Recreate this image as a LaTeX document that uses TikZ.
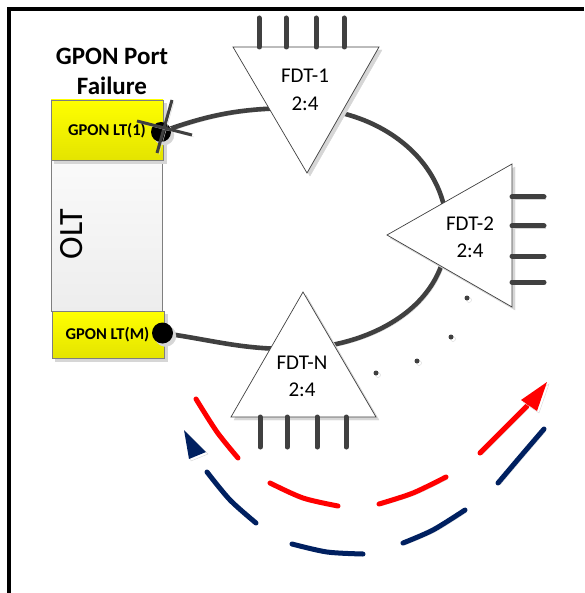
\documentclass[tikz,border=0pt]{standalone}
\usepackage{fontspec}
\setmainfont{Carlito}
\definecolor{ringgray}{HTML}{404040}
\definecolor{navy}{HTML}{002060}
\definecolor{shadowgray}{HTML}{D6D6D6}
\definecolor{yeltop}{HTML}{FFFF00}
\definecolor{yelbot}{HTML}{E4E400}
\definecolor{oltedge}{HTML}{7F7F7F}
\begin{document}
\begin{tikzpicture}[x=1pt,y=-1pt,
  lshadow/.style={preaction={draw=shadowgray, transform canvas={shift={(2pt,-2pt)}}}},
  fshadow/.style={preaction={fill=shadowgray, draw=shadowgray, transform canvas={shift={(3pt,-3pt)}}}},
  frame/.style={draw=black, line width=4pt},
  ring/.style={draw=ringgray, line width=4.6pt, lshadow},
  stub/.style={draw=ringgray, line width=5pt, line cap=round, lshadow},
  fdt/.style={draw=ringgray, line width=0.7pt, fill=white, fshadow},
  fdtlabel/.style={font=\fontsize{21}{25}\selectfont, anchor=base, inner sep=0pt},
  title/.style={font=\fontsize{25}{30}\selectfont\bfseries, anchor=base, inner sep=0pt},
  ltlabel/.style={font=\fontsize{16.5}{20}\selectfont\bfseries, anchor=base, inner sep=0pt},
  ltbox/.style={draw=oltedge, line width=0.8pt, top color=yeltop, bottom color=yelbot, fshadow},
  oltbox/.style={draw=oltedge, line width=0.8pt, top color=white!98!black, bottom color=white!93!black},
  portdot/.style={circle, fill=black, inner sep=0pt, fshadow},
  crossline/.style={draw=ringgray, line width=3pt, lshadow},
  edot/.style={circle, fill=ringgray, inner sep=0pt, minimum size=5pt, lshadow},
  dashred/.style={draw=red, line width=5pt, line cap=round, lshadow},
  dashblue/.style={draw=navy, line width=5pt, line cap=round, lshadow}
]
\useasboundingbox (0,0) rectangle (584,593);
% frame
\draw[frame] (8.5,593) -- (8.5,9) -- (584,9);

% ring waypoints
\coordinate (rtop) at (300,108);
\coordinate (rright) at (447,232);
\coordinate (rbot) at (290,349);
\coordinate (p1) at (161,132);
\coordinate (p2) at (162.5,333);
\draw[ring] (p1) to[out=20,in=180] (rtop) to[out=0,in=90] (rright)
  to[out=-90,in=0] (rbot) to[out=180,in=-8] (p2);

% FDT-1
\draw[fdt] (233,47) -- (379,47) -- (307,173) -- cycle;
\foreach \x in {259,286,316,344} \draw[stub] (\x,47) -- (\x,18);
\node[fdtlabel] (f1a) at (305,83) {FDT-1};
\node[fdtlabel] (f1b) at (305,111) {2:4};

% FDT-2
\draw[fdt] (387,235) -- (512,164) -- (512,307) -- cycle;
\foreach \y in {197,226,256,282} \draw[stub] (512,\y) -- (544,\y);
\node[fdtlabel] (f2a) at (470,230) {FDT-2};
\node[fdtlabel] (f2b) at (470,257) {2:4};

% FDT-N
\draw[fdt] (303,292) -- (376,417) -- (231,417) -- cycle;
\foreach \x in {260,287,317,346} \draw[stub] (\x,417) -- (\x,447);
\node[fdtlabel] (fna) at (302,369) {FDT-N};
\node[fdtlabel] (fnb) at (302,396) {2:4};

% ellipsis dots
\node[edot] (e1) at (467,298) {};
\node[edot] (e2) at (451,337) {};
\node[edot] (e3) at (417,361) {};
\node[edot] (e4) at (376,373) {};

% OLT
\draw[oltbox] (51,160) rectangle (162,311);
\draw[ltbox] (51,100) rectangle (163,160);
\draw[ltbox] (52,311) rectangle (164,358);
\node[font=\fontsize{34}{40}\selectfont, rotate=90, inner sep=0pt] (olt) at (72,234) {OLT};
\node[ltlabel] (lt1) at (107,136) {GPON LT(1)};
\node[ltlabel] (ltm) at (107.5,339) {GPON LT(M)};

% port dots
\node[portdot, minimum size=20pt] (d1) at (p1) {};
\node[portdot, minimum size=21pt] (d2) at (p2) {};

% failure cross
\coordinate (c1a) at (157,153);
\coordinate (c1b) at (172,100);
\coordinate (c2a) at (137,121);
\coordinate (c2b) at (192,135);
\draw[crossline] (c1a) -- (c1b);
\draw[crossline] (c2a) -- (c2b);

% title
\node[title] (t1) at (112,65) {GPON Port};
\node[title] (t2) at (112,95) {Failure};

% red protection path
\draw[dashred] plot[smooth] coordinates {(196,399) (217,432) (238,458)};
\draw[dashred] plot[smooth] coordinates {(270,483) (303,498) (338,506)};
\draw[dashred] plot[smooth] coordinates {(379,504) (413,493) (446,477)};
\draw[dashred] plot[smooth] coordinates {(480,453) (503,430) (527,406)};
\fill[red, lshadow] (547,382) -- (521,400) -- (537,411) -- cycle;

% blue path
\draw[dashblue] plot[smooth] coordinates {(207,472) (230,500) (256,523)};
\draw[dashblue] plot[smooth] coordinates {(292,544) (327,552) (363,554)};
\draw[dashblue] plot[smooth] coordinates {(403,543) (433,530) (465,510)};
\draw[dashblue] plot[smooth] coordinates {(498,483) (520,457) (544,429)};
\fill[navy, lshadow] (184,430) -- (189,459) -- (206,452) -- cycle;
\end{tikzpicture}
\end{document}
